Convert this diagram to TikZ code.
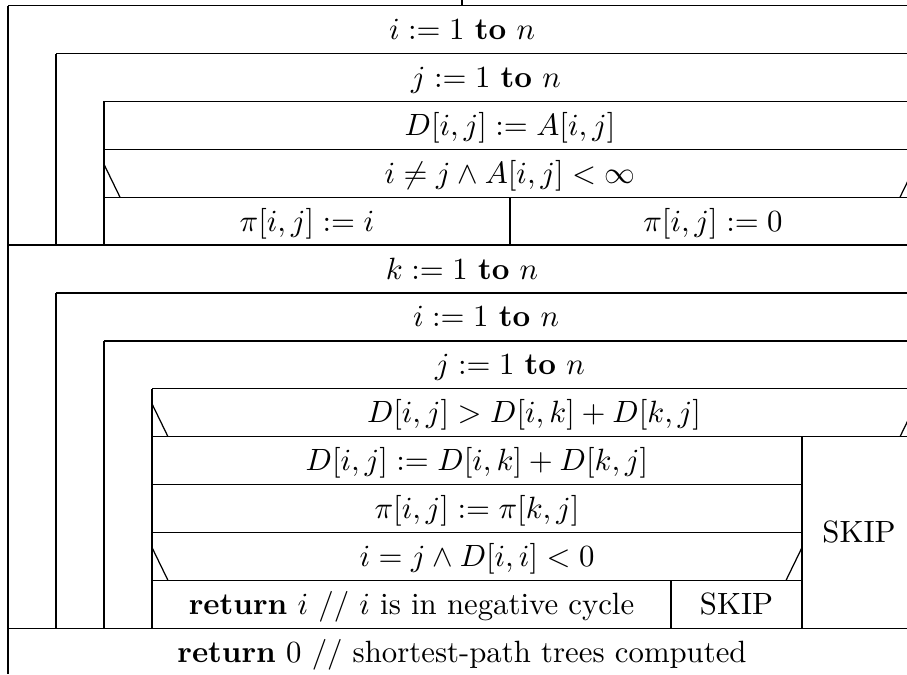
\documentclass[tikz,border=0pt]{standalone}
\begin{document}
\begin{tikzpicture}[x=0.325pt,y=-0.325pt,
  rule/.style={line width=0.4pt},
  txt/.style={anchor=base,inner sep=0pt}]
\useasboundingbox (0,0) rectangle (907,674);
\clip (0,0) rectangle (907,674);
% row boundaries
\def\R{916}
\foreach \k in {0,...,13}{\pgfmathsetmacro{\yy}{5.6+47.9*\k}\expandafter\xdef\csname yr\k\endcsname{\yy}}
\coordinate (tick) at (462,0);
\coordinate (tickend) at (462,\csname yr0\endcsname);
\draw[rule] (tick) -- (tickend);
% outer frame
\draw[rule] (8,\csname yr0\endcsname) -- (\R,\csname yr0\endcsname);
\draw[rule] (8,\csname yr0\endcsname) -- (8,674);
% first loop nest
\draw[rule] (56,\csname yr1\endcsname) -- (\R,\csname yr1\endcsname);
\draw[rule] (56,\csname yr1\endcsname) -- (56,\csname yr5\endcsname);
\draw[rule] (104,\csname yr2\endcsname) -- (\R,\csname yr2\endcsname);
\draw[rule] (104,\csname yr2\endcsname) -- (104,\csname yr5\endcsname);
\draw[rule] (104,\csname yr3\endcsname) -- (\R,\csname yr3\endcsname);
\draw[rule] (104,\csname yr3\endcsname+15) -- (120,\csname yr4\endcsname);
\draw[rule] (\R,\csname yr3\endcsname+15) -- (900,\csname yr4\endcsname);
\draw[rule] (104,\csname yr4\endcsname) -- (\R,\csname yr4\endcsname);
\draw[rule] (510,\csname yr4\endcsname) -- (510,\csname yr5\endcsname);
\draw[rule] (8,\csname yr5\endcsname) -- (\R,\csname yr5\endcsname);
% second loop nest
\draw[rule] (56,\csname yr6\endcsname) -- (\R,\csname yr6\endcsname);
\draw[rule] (56,\csname yr6\endcsname) -- (56,\csname yr13\endcsname);
\draw[rule] (104,\csname yr7\endcsname) -- (\R,\csname yr7\endcsname);
\draw[rule] (104,\csname yr7\endcsname) -- (104,\csname yr13\endcsname);
\draw[rule] (152,\csname yr8\endcsname) -- (\R,\csname yr8\endcsname);
\draw[rule] (152,\csname yr8\endcsname) -- (152,\csname yr13\endcsname);
\draw[rule] (152,\csname yr8\endcsname+15) -- (168,\csname yr9\endcsname);
\draw[rule] (\R,\csname yr8\endcsname+15) -- (900,\csname yr9\endcsname);
\draw[rule] (152,\csname yr9\endcsname) -- (\R,\csname yr9\endcsname);
\draw[rule] (802,\csname yr9\endcsname) -- (802,\csname yr13\endcsname);
\draw[rule] (152,\csname yr10\endcsname) -- (802,\csname yr10\endcsname);
\draw[rule] (152,\csname yr11\endcsname) -- (802,\csname yr11\endcsname);
\draw[rule] (152,\csname yr11\endcsname+15) -- (168,\csname yr12\endcsname);
\draw[rule] (802,\csname yr11\endcsname+15) -- (786,\csname yr12\endcsname);
\draw[rule] (152,\csname yr12\endcsname) -- (802,\csname yr12\endcsname);
\draw[rule] (671,\csname yr12\endcsname) -- (671,\csname yr13\endcsname);
\draw[rule] (8,\csname yr13\endcsname) -- (\R,\csname yr13\endcsname);
% texts (baseline = row middle + 10)
\node[txt] (t1) at (462,39.5) {$i := 1$ \textbf{to} $n$};
\node[txt] (t2) at (486,87.4) {$j := 1$ \textbf{to} $n$};
\node[txt] (t3) at (510,135.3) {$D[i,j] := A[i,j]$};
\node[txt] (t4) at (510,183.2) {$i \neq j \wedge A[i,j] < \infty$};
\node[txt] (t5) at (307,231.1) {$\pi[i,j] := i$};
\node[txt] (t6) at (713,231.1) {$\pi[i,j] := 0$};
\node[txt] (t7) at (462,279) {$k := 1$ \textbf{to} $n$};
\node[txt] (t8) at (486,326.9) {$i := 1$ \textbf{to} $n$};
\node[txt] (t9) at (510,374.8) {$j := 1$ \textbf{to} $n$};
\node[txt] (t10) at (534,422.7) {$D[i,j] > D[i,k] + D[k,j]$};
\node[txt] (t11) at (477,470.6) {$D[i,j] := D[i,k] + D[k,j]$};
\node[txt] (t12) at (477,518.5) {$\pi[i,j] := \pi[k,j]$};
\node[txt] (t13) at (477,566.4) {$i = j \wedge D[i,i] < 0$};
\node[txt] (t14) at (411.5,614.3) {\textbf{return} $i$ // $i$ is in negative cycle};
\node[txt] (t15) at (736.5,614.3) {SKIP};
\node[txt] (t16) at (859,542.5) {SKIP};
\node[txt] (t17) at (462,662.2) {\textbf{return} $0$ // shortest-path trees computed};
\end{tikzpicture}
\end{document}
